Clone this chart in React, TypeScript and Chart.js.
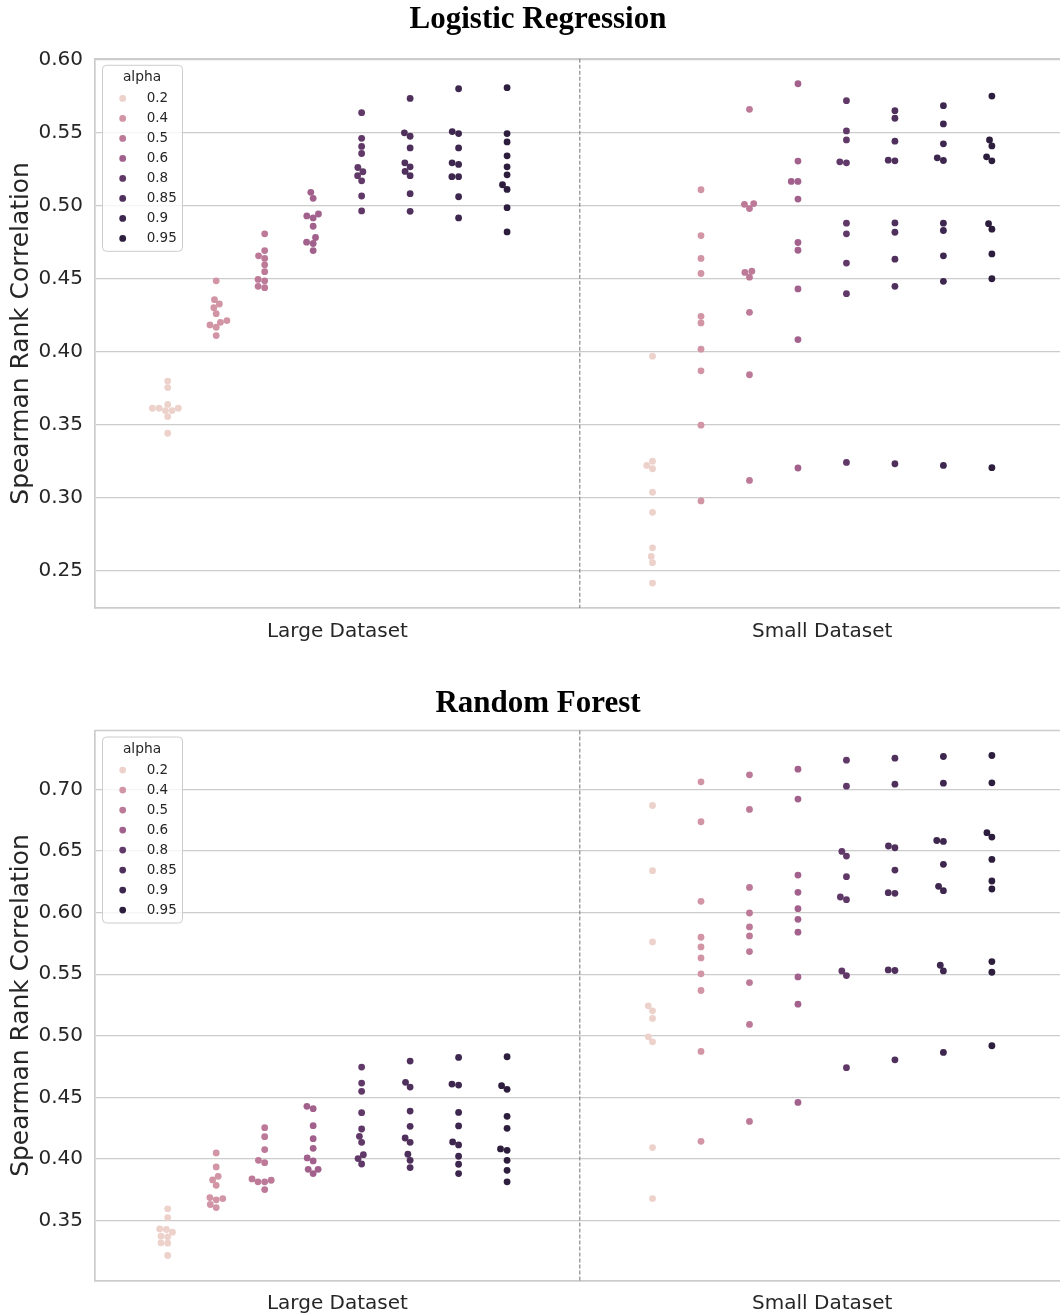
import React, { useEffect, useRef } from 'react';
import { Chart, registerables } from 'chart.js';

Chart.register(...registerables);

// ---------------- data ----------------
const categories = ['Large Dataset', 'Small Dataset'];
const alphas = [0.2, 0.4, 0.5, 0.6, 0.8, 0.85, 0.9, 0.95];

const lrYTicks = [0.25, 0.3, 0.35, 0.4, 0.45, 0.5, 0.55, 0.6];
const rfYTicks = [0.35, 0.4, 0.45, 0.5, 0.55, 0.6, 0.65, 0.7];

// Logistic Regression, one row per alpha
const lrLarge = [
  [0.380, 0.3755, 0.364, 0.3614, 0.3598, 0.3598, 0.3614, 0.3614, 0.3557, 0.3443],
  [0.4486, 0.4357, 0.4327, 0.4302, 0.4261, 0.4214, 0.4202, 0.4184, 0.4168, 0.4111],
  [0.4807, 0.4693, 0.4657, 0.4639, 0.4595, 0.4548, 0.4495, 0.4486, 0.4448, 0.4439],
  [0.5091, 0.505, 0.4943, 0.493, 0.4916, 0.4859, 0.4782, 0.475, 0.4741, 0.4693],
  [0.5636, 0.5461, 0.5405, 0.5357, 0.5261, 0.5232, 0.5205, 0.517, 0.5066, 0.4964],
  [0.5734, 0.5498, 0.5475, 0.5395, 0.5293, 0.5266, 0.5234, 0.5205, 0.5082, 0.4961],
  [0.58, 0.5507, 0.5493, 0.5395, 0.5293, 0.5282, 0.5198, 0.5198, 0.5061, 0.4916],
  [0.5807, 0.5493, 0.5436, 0.5341, 0.5266, 0.5211, 0.5143, 0.5111, 0.4986, 0.482],
];
const lrSmall = [
  [0.397, 0.3252, 0.3223, 0.32, 0.3039, 0.2902, 0.2659, 0.26, 0.2557, 0.2418],
  [0.5109, 0.4795, 0.4639, 0.4536, 0.4243, 0.4198, 0.4018, 0.387, 0.3498, 0.298],
  [0.5659, 0.5009, 0.5014, 0.498, 0.4543, 0.4511, 0.4552, 0.427, 0.3843, 0.312],
  [0.5834, 0.5305, 0.5166, 0.5166, 0.5045, 0.4748, 0.4695, 0.443, 0.4084, 0.3205],
  [0.5718, 0.5511, 0.545, 0.53, 0.5293, 0.488, 0.4807, 0.4607, 0.4398, 0.3243],
  [0.565, 0.5598, 0.5441, 0.5311, 0.5307, 0.4882, 0.4818, 0.4634, 0.4448, 0.3234],
  [0.5684, 0.5559, 0.5423, 0.5327, 0.5309, 0.488, 0.483, 0.4657, 0.4482, 0.3223],
  [0.575, 0.545, 0.5409, 0.5334, 0.5307, 0.4877, 0.4839, 0.467, 0.45, 0.3207],
];

// Random Forest, one row per alpha
const rfLarge = [
  [0.3595, 0.3524, 0.3432, 0.3427, 0.3405, 0.3373, 0.3368, 0.3319, 0.3316, 0.3216],
  [0.4049, 0.3935, 0.3859, 0.383, 0.3786, 0.3686, 0.3678, 0.3668, 0.363, 0.3605],
  [0.4254, 0.4181, 0.4076, 0.3989, 0.397, 0.3838, 0.3814, 0.3814, 0.3827, 0.3751],
  [0.4427, 0.4408, 0.427, 0.4165, 0.4086, 0.4008, 0.3984, 0.3916, 0.3916, 0.3881],
  [0.4746, 0.4616, 0.4549, 0.4376, 0.4243, 0.4184, 0.4135, 0.4035, 0.4003, 0.3959],
  [0.4795, 0.4622, 0.4584, 0.4389, 0.4265, 0.417, 0.4135, 0.4038, 0.3989, 0.393],
  [0.4824, 0.4608, 0.46, 0.4378, 0.4268, 0.4138, 0.4114, 0.4022, 0.3957, 0.3881],
  [0.483, 0.4595, 0.4565, 0.4346, 0.4249, 0.4081, 0.407, 0.3989, 0.3908, 0.3814],
];
const rfSmall = [
  [0.687, 0.6341, 0.5762, 0.5243, 0.5203, 0.5141, 0.4992, 0.4951, 0.4092, 0.3678],
  [0.7062, 0.6738, 0.6092, 0.58, 0.5722, 0.5632, 0.5503, 0.5368, 0.4873, 0.4143],
  [0.7119, 0.6838, 0.6205, 0.5997, 0.5884, 0.5811, 0.5684, 0.5432, 0.5092, 0.4305],
  [0.7165, 0.6922, 0.6305, 0.6165, 0.6032, 0.5946, 0.5841, 0.5478, 0.5257, 0.4459],
  [0.7238, 0.7027, 0.6497, 0.6459, 0.6292, 0.6127, 0.6105, 0.5527, 0.5489, 0.4741],
  [0.7254, 0.7043, 0.6541, 0.6527, 0.6346, 0.6162, 0.6157, 0.5535, 0.553, 0.4805],
  [0.7268, 0.7051, 0.6586, 0.6578, 0.6392, 0.6214, 0.6178, 0.5573, 0.5527, 0.4865],
  [0.7276, 0.7054, 0.6649, 0.6614, 0.6432, 0.6257, 0.6192, 0.5603, 0.5516, 0.4919],
];

// ---------------- style ----------------
const FONT = '"DejaVu Sans", sans-serif';
const TEXT = '#262626';
const GRID = '#cccccc';
const R_DRAW = 3.4;
const R_SWARM = 3.2;

// seaborn default sequential palette (cubehelix, light=.85, dark=.15)
function cubehelixColor(t: number): string {
  const x = 0.85 + (0.15 - 0.85) * t;
  const start = 0, rot = 0.4, hue = 0.8, gamma = 1;
  const xg = Math.pow(x, gamma);
  const a = (hue * xg * (1 - xg)) / 2;
  const phi = 2 * Math.PI * (start / 3 + rot * x);
  const f = (p0: number, p1: number) =>
    Math.min(1, Math.max(0, xg + a * (p0 * Math.cos(phi) + p1 * Math.sin(phi))));
  const r = f(-0.14861, 1.78277);
  const g = f(-0.29227, -0.90649);
  const b = f(1.97294, 0.0);
  return `rgb(${Math.round(r * 255)},${Math.round(g * 255)},${Math.round(b * 255)})`;
}
const aMin = Math.min(...alphas);
const aMax = Math.max(...alphas);
const alphaColors = alphas.map((a) => cubehelixColor((a - aMin) / (aMax - aMin)));

// ---------------- plugins ----------------
const swarmPlugin = {
  id: 'swarm',
  afterDatasetsUpdate(chart: any) {
    chart.data.datasets.forEach((ds: any, di: number) => {
      const meta = chart.getDatasetMeta(di);
      const groups: Record<string, any[]> = {};
      meta.data.forEach((el: any, i: number) => {
        const key = String(ds.data[i].x);
        (groups[key] = groups[key] || []).push(el);
      });
      Object.values(groups).forEach((els) => {
        const mid = els[0].x;
        const pts = els
          .map((el: any) => ({ el, x: mid, y: -el.y }))
          .sort((p: any, q: any) => p.y - q.y);
        const swarm: any[] = [];
        const sep = 2 * R_SWARM;
        for (const p of pts) {
          const neighbors: any[] = [];
          for (let k = swarm.length - 1; k >= 0; k--) {
            if (p.y - swarm[k].y < sep) neighbors.push(swarm[k]);
            else break;
          }
          const cands: number[] = [mid];
          let leftFirst = true;
          for (const n of neighbors) {
            const dy = p.y - n.y;
            const dx = Math.sqrt(Math.max(sep * sep - dy * dy, 0)) * 1.05;
            if (leftFirst) cands.push(n.x - dx, n.x + dx);
            else cands.push(n.x + dx, n.x - dx);
            leftFirst = !leftFirst;
          }
          const order = cands
            .map((c, i) => ({ c, i }))
            .sort((u, v) => Math.abs(u.c - mid) - Math.abs(v.c - mid) || u.i - v.i);
          let chosen = mid;
          for (const { c } of order) {
            if (neighbors.every((n) => (n.x - c) ** 2 + (n.y - p.y) ** 2 >= sep * sep - 1e-6)) {
              chosen = c;
              break;
            }
          }
          p.x = chosen;
          swarm.push(p);
        }
        pts.forEach((p: any) => {
          p.el.x = p.x;
        });
      });
    });
  },
};

const decorPlugin = {
  id: 'decor',
  beforeDatasetsDraw(chart: any) {
    const { ctx, chartArea: a, scales } = chart;
    ctx.save();
    // top spine
    ctx.strokeStyle = GRID;
    ctx.lineWidth = 1.7;
    ctx.beginPath();
    ctx.moveTo(a.left, a.top);
    ctx.lineTo(a.right, a.top);
    ctx.stroke();
    // dashed separator between the two datasets
    const px = scales.x.getPixelForValue(0.5);
    ctx.strokeStyle = '#808080';
    ctx.lineWidth = 1.1;
    ctx.setLineDash([4, 2]);
    ctx.beginPath();
    ctx.moveTo(px, a.top);
    ctx.lineTo(px, a.bottom);
    ctx.stroke();
    ctx.restore();
  },
  afterDatasetsDraw(chart: any) {
    const { ctx, chartArea: a } = chart;
    const bx = a.left + 7;
    const by = a.top + 6;
    const bw = 80;
    const bh = 186;
    ctx.save();
    ctx.beginPath();
    ctx.roundRect(bx + 0.5, by + 0.5, bw, bh, 4);
    ctx.fillStyle = 'rgba(255,255,255,0.8)';
    ctx.fill();
    ctx.strokeStyle = GRID;
    ctx.lineWidth = 1;
    ctx.stroke();
    ctx.fillStyle = TEXT;
    ctx.font = `13.8px ${FONT}`;
    ctx.textBaseline = 'middle';
    ctx.textAlign = 'center';
    ctx.fillText('alpha', bx + bw / 2, by + 12.6);
    ctx.font = `13.5px ${FONT}`;
    ctx.textAlign = 'left';
    alphas.forEach((al, i) => {
      const y = by + 33.6 + 20 * i;
      ctx.beginPath();
      ctx.arc(bx + 20.7, y, R_DRAW, 0, Math.PI * 2);
      ctx.fillStyle = alphaColors[i];
      ctx.fill();
      ctx.fillStyle = TEXT;
      ctx.fillText(String(al), bx + 44.7, y + 0.5);
    });
    ctx.restore();
  },
};

// ---------------- chart ----------------
type PanelProps = {
  large: number[][];
  small: number[][];
  yTicks: number[];
  width: number;
  height: number;
  padTop: number;
  xAxisHeight: number;
};

function SwarmPanel({ large, small, yTicks, width, height, padTop, xAxisHeight }: PanelProps) {
  const ref = useRef<HTMLCanvasElement | null>(null);

  useEffect(() => {
    if (!ref.current) return;
    const all = [...large.flat(), ...small.flat()];
    const lo = Math.min(...all);
    const hi = Math.max(...all);
    const m = (hi - lo) * 0.05;

    const datasets = alphas.map((al, h) => {
      const dodge = (h - (alphas.length - 1) / 2) * (0.8 / alphas.length);
      return {
        label: String(al),
        data: [
          ...large[h].map((v) => ({ x: 0 + dodge, y: v })),
          ...small[h].map((v) => ({ x: 1 + dodge, y: v })),
        ],
        backgroundColor: alphaColors[h],
        borderWidth: 0,
        pointRadius: R_DRAW,
        pointHoverRadius: R_DRAW,
      };
    });

    const chart = new Chart(ref.current, {
      type: 'scatter',
      data: { datasets },
      plugins: [swarmPlugin, decorPlugin],
      options: {
        animation: false,
        responsive: false,
        events: [],
        layout: { padding: { top: padTop, left: 0, right: 0, bottom: 0 } },
        plugins: { legend: { display: false }, tooltip: { enabled: false }, title: { display: false } },
        scales: {
          x: {
            type: 'linear',
            min: -0.5,
            max: categories.length - 0.5,
            afterBuildTicks: (s: any) => {
              s.ticks = categories.map((_, i) => ({ value: i }));
            },
            afterFit: (s: any) => {
              s.height = xAxisHeight;
            },
            ticks: {
              callback: (v: any) => categories[Math.round(Number(v))],
              font: { family: FONT, size: 20 },
              color: TEXT,
              padding: 11.5,
              maxRotation: 0,
              autoSkip: false,
            },
            grid: { display: false, drawTicks: false },
            border: { display: true, color: GRID, width: 1.7 },
          },
          y: {
            type: 'linear',
            min: lo - m,
            max: hi + m,
            afterBuildTicks: (s: any) => {
              s.ticks = yTicks.map((v) => ({ value: v }));
            },
            afterFit: (s: any) => {
              s.width = 95;
            },
            ticks: {
              callback: (v: any) => Number(v).toFixed(2),
              font: { family: FONT, size: 20 },
              color: TEXT,
              padding: 12,
            },
            grid: { color: GRID, lineWidth: 1.3, drawTicks: false },
            border: { display: true, color: GRID, width: 1.7 },
            title: {
              display: true,
              text: 'Spearman Rank Correlation',
              font: { family: FONT, size: 24.9 },
              color: TEXT,
              padding: { top: 7, bottom: 0 },
            },
          },
        },
      } as any,
    });
    return () => chart.destroy();
  }, [large, small, yTicks, padTop, xAxisHeight]);

  return <canvas ref={ref} width={width} height={height} style={{ display: 'block' }} />;
}

const titleStyle: React.CSSProperties = {
  position: 'absolute',
  left: 0,
  width: 1076,
  textAlign: 'center',
  fontFamily: '"Liberation Serif", "DejaVu Serif", serif',
  fontWeight: 'bold',
  fontSize: 31,
  lineHeight: '31px',
  color: '#000',
  margin: 0,
};

export default function App() {
  return (
    <div
      style={{
        position: 'absolute',
        left: 0,
        top: 0,
        width: 1060,
        height: 1316,
        overflow: 'hidden',
        background: '#fff',
      }}
    >
      <div style={{ position: 'absolute', left: 0, top: 0 }}>
        <SwarmPanel large={lrLarge} small={lrSmall} yTicks={lrYTicks} width={1068} height={660} padTop={58.8} xAxisHeight={52} />
      </div>
      <div style={{ position: 'absolute', left: 0, top: 660 }}>
        <SwarmPanel large={rfLarge} small={rfSmall} yTicks={rfYTicks} width={1068} height={656} padTop={70.5} xAxisHeight={35.5} />
      </div>
      <div style={{ ...titleStyle, top: 2 }}>Logistic Regression</div>
      <div style={{ ...titleStyle, top: 686 }}>Random Forest</div>
    </div>
  );
}
